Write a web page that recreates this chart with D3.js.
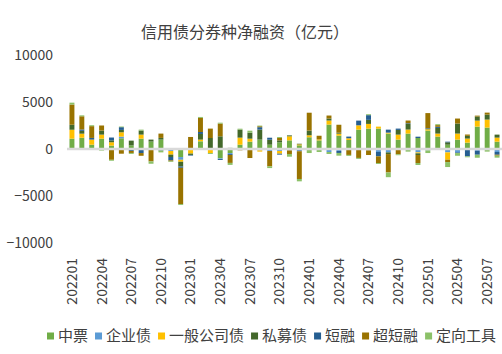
<!DOCTYPE html>
<html>
<head>
<meta charset="utf-8">
<script src="https://cdn.jsdelivr.net/npm/d3@7/dist/d3.min.js"></script>
<style>
  body { margin: 0; background: #fff; }
  svg { display: block; font-family: "Noto Sans CJK SC", "Noto Sans", sans-serif; }
</style>
</head>
<body>
<svg id="chart"></svg>
<script>
// months 202201 .. 202508
const months = [
  "202201","202202","202203","202204","202205","202206","202207","202208","202209","202210","202211","202212",
  "202301","202302","202303","202304","202305","202306","202307","202308","202309","202310","202311","202312",
  "202401","202402","202403","202404","202405","202406","202407","202408","202409","202410","202411","202412",
  "202501","202502","202503","202504","202505","202506","202507","202508"
];
const tickMonths = ["202201","202204","202207","202210","202301","202304","202307","202310",
  "202401","202404","202407","202410","202501","202504","202507"];
const yTicks = [-10000, -5000, 0, 5000, 10000];

const seriesNames = ["中票", "企业债", "一般公司债", "私募债", "短融", "超短融", "定向工具"];
const seriesColors = ["#70AD47", "#5B9BD5", "#FFC000", "#43682B", "#255E91", "#997300", "#8CC168"];

// net financing, 亿元
const zhongpiao = [1100,1200,460,1100,360,1140,390,1100,790,1000,0,-860,
  0,820,0,-1000,-430,460,780,1000,460,710,920,390,
  1250,920,2600,1420,960,2060,2170,2170,1640,1000,1640,1170,
  1960,1320,460,1000,680,2380,2280,780];
const qiyezhai = [0,0,0,-100,0,180,0,0,0,0,-210,-290,
  -100,0,0,-70,-100,0,0,-140,-210,-210,-140,-140,
  0,0,-320,-210,-80,-100,-140,-320,-360,-100,-70,-360,
  -140,-100,-360,-360,-80,-180,-70,-320];
const yibangongsi = [950,430,540,430,360,460,0,430,0,-100,-390,-210,
  -390,180,-430,0,0,750,320,-140,0,-290,430,100,
  210,100,430,210,180,460,500,210,100,530,430,-100,
  140,320,-780,640,430,640,850,430];
const simuzhai = [530,300,0,430,200,250,500,430,210,180,-250,-500,
  -140,600,1170,1350,120,850,640,1070,530,210,100,70,
  500,-70,210,100,0,0,430,0,-180,500,600,-180,
  60,600,250,1070,290,430,530,320];
const duanrong = [0,150,180,0,300,290,-210,-430,0,-60,-360,-140,
  -70,210,0,-100,-100,-80,0,250,210,-100,0,-100,
  0,0,0,-210,180,500,500,-460,320,140,70,140,
  60,120,70,-70,-700,-430,0,-290];
const chaoduanrong = [2150,1400,1250,540,-1150,-500,-210,-290,-1320,460,-100,-3860,
  1280,1500,1000,1350,-850,-60,-960,100,-1640,250,-390,-2950,
  1900,390,320,850,-550,-850,-500,-710,-1960,-460,290,-850,
  1600,180,-250,530,140,100,210,-100];
const dingxiang = [200,100,100,-70,-100,70,-100,100,-250,-200,-70,-100,
  0,100,-100,100,-210,100,210,70,-180,100,-290,-250,
  -430,-250,-210,-290,-100,-100,100,-100,-500,-100,-210,-210,
  -290,100,-530,-290,-100,-320,-210,-210];

const seriesValues = [zhongpiao, qiyezhai, yibangongsi, simuzhai, duanrong, chaoduanrong, dingxiang];

const W = 502, H = 354;
const plot = {left: 67, right: 502, top: 55, bottom: 243};

const rows = months.map(function(m, i) {
  const r = {month: m};
  seriesNames.forEach(function(s, k) { r[s] = seriesValues[k][i]; });
  return r;
});

const svg = d3.select("#chart").attr("width", W).attr("height", H);

const x = d3.scaleBand()
  .domain(months)
  .range([plot.left, plot.right])
  .paddingInner(0.5)
  .paddingOuter(0.25);

const y = d3.scaleLinear()
  .domain([-10000, 10000])
  .range([plot.bottom, plot.top]);

const color = d3.scaleOrdinal().domain(seriesNames).range(seriesColors);

const stacked = d3.stack()
  .keys(seriesNames)
  .offset(d3.stackOffsetDiverging)(rows);

// title
svg.append("text")
  .attr("x", 245)
  .attr("y", 32)
  .attr("dy", "0.35em")
  .attr("text-anchor", "middle")
  .style("font-size", "16px")
  .style("fill", "#404040")
  .text("信用债分券种净融资（亿元）");

// bars
svg.append("g")
  .selectAll("g")
  .data(stacked)
  .join("g")
  .attr("fill", function(d) { return color(d.key); })
  .selectAll("rect")
  .data(function(d) { return d; })
  .join("rect")
  .attr("x", function(d) { return x(d.data.month); })
  .attr("width", x.bandwidth())
  .attr("y", function(d) { return y(d[1]); })
  .attr("height", function(d) { return y(d[0]) - y(d[1]); });

// zero line
svg.append("line")
  .attr("x1", plot.left)
  .attr("x2", plot.right)
  .attr("y1", y(0))
  .attr("y2", y(0))
  .attr("stroke", "#D9D9D9")
  .attr("stroke-width", 2.5);

// y axis
const yAxis = d3.axisLeft(y)
  .tickValues(yTicks)
  .tickSize(0)
  .tickPadding(14)
  .tickFormat(d3.format("d"));

const yg = svg.append("g")
  .attr("transform", "translate(" + plot.left + ",0)")
  .call(yAxis);
yg.select(".domain").remove();
yg.selectAll("text")
  .style("font-size", "14px")
  .style("font-family", "\"Noto Sans CJK SC\", \"Noto Sans\", sans-serif")
  .style("fill", "#404040");

// x axis, rotated labels
const xAxis = d3.axisBottom(x)
  .tickValues(tickMonths)
  .tickSize(0);

const xg = svg.append("g")
  .attr("transform", "translate(0,258)")
  .call(xAxis);
xg.select(".domain").remove();
xg.selectAll("text")
  .attr("x", 0)
  .attr("y", 0)
  .attr("dy", "0.35em")
  .attr("transform", "rotate(-90)")
  .style("text-anchor", "end")
  .style("font-size", "14px")
  .style("font-family", "\"Noto Sans CJK SC\", \"Noto Sans\", sans-serif")
  .style("fill", "#404040");

// legend
const legend = svg.append("g").attr("transform", "translate(0,336)");
let cursor = 47;
seriesNames.forEach(function(name) {
  const item = legend.append("g").attr("transform", "translate(" + cursor + ",0)");
  item.append("rect")
    .attr("x", 0)
    .attr("y", -3.5)
    .attr("width", 7)
    .attr("height", 7)
    .attr("fill", color(name));
  const t = item.append("text")
    .attr("x", 11)
    .attr("dy", "0.35em")
    .style("font-size", "15px")
    .style("fill", "#404040")
    .text(name);
  cursor += 11 + t.node().getComputedTextLength() + 7;
});
</script>
</body>
</html>
